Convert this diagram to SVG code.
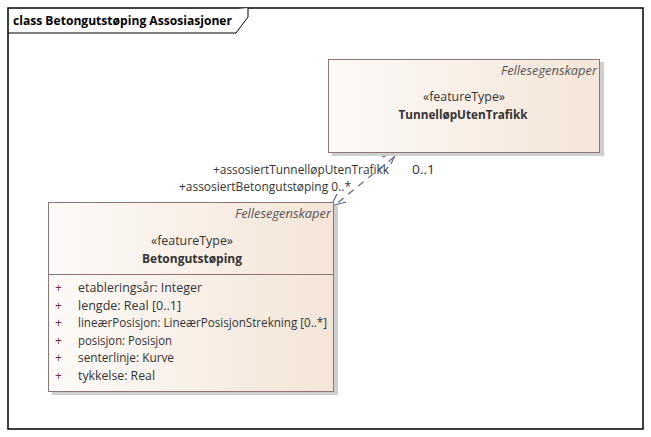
<svg xmlns="http://www.w3.org/2000/svg" width="651" height="437" viewBox="0 0 651 437">
<defs>
<linearGradient id="boxfill" x1="0" y1="0" x2="1" y2="0">
<stop offset="0" stop-color="#fdfaf7"/>
<stop offset="1" stop-color="#f4e5d8"/>
</linearGradient>
</defs>
<style>
text{font-family:"Open Sans","Noto Sans","DejaVu Sans",sans-serif;font-size:12px;fill:#333333}
.title{font-weight:bold;font-size:12px;fill:#000000}
.italic{font-style:italic;fill:#555555}
.bold{font-weight:bold;fill:#333333}
.mid{text-anchor:middle}
.end{text-anchor:end}
.box{fill:url(#boxfill);stroke:#8e7474;stroke-width:1}
.shadow{fill:#cfcfcf}
.vis{fill:#6a2e46}
.conn{fill:none;stroke:#5b6888;stroke-width:1.2}
.dash{stroke-dasharray:7,6}
</style>
<rect x="0" y="0" width="651" height="437" fill="#ffffff"/>
<g id="frame">
<rect x="8" y="8" width="635" height="421" fill="none" stroke="#000000" stroke-width="1.5"/>
<path d="M8,33 L236,33 L248,17 L248,8" fill="#ffffff" stroke="#000000" stroke-width="1"/>
<text class="title" x="13" y="25" textLength="219" lengthAdjust="spacingAndGlyphs">class Betongutstøping Assosiasjoner</text>
</g>
<g id="connectors">
<path class="conn dash" d="M394,157 L335,205"/>
<path class="conn" d="M382,157 L396,153 L391,164"/>
<path class="conn" d="M346,202 L331,206 L337,194"/>
<text class="end" x="389" y="174" textLength="176" lengthAdjust="spacingAndGlyphs">+assosiertTunnelløpUtenTrafikk</text>
<text x="412" y="174" textLength="23" lengthAdjust="spacingAndGlyphs">0..1</text>
<text class="end" x="351" y="191" textLength="172" lengthAdjust="spacingAndGlyphs">+assosiertBetongutstøping 0..*</text>
</g>
<g id="TunnellopUtenTrafikk">
<rect class="shadow" x="332" y="62" width="272" height="94"/>
<rect class="box" x="328.5" y="59.5" width="271" height="93"/>
<text class="italic end" x="597" y="75" textLength="96" lengthAdjust="spacingAndGlyphs">Fellesegenskaper</text>
<text class="mid" x="464" y="101" textLength="82" lengthAdjust="spacingAndGlyphs">«featureType»</text>
<text class="bold mid" x="463" y="119" textLength="129" lengthAdjust="spacingAndGlyphs">TunnelløpUtenTrafikk</text>
</g>
<g id="Betongutstoping">
<rect class="shadow" x="52" y="206" width="286" height="189"/>
<rect class="box" x="48.5" y="202.5" width="285" height="189"/>
<line x1="48.5" y1="274.5" x2="333.5" y2="274.5" stroke="#8e7474" stroke-width="1"/>
<text class="italic end" x="331" y="218" textLength="96" lengthAdjust="spacingAndGlyphs">Fellesegenskaper</text>
<text class="mid" x="192" y="245" textLength="82" lengthAdjust="spacingAndGlyphs">«featureType»</text>
<text class="bold mid" x="192" y="263" textLength="100" lengthAdjust="spacingAndGlyphs">Betongutstøping</text>
<text class="vis" x="55" y="292">+</text>
<text x="78" y="292" textLength="124" lengthAdjust="spacingAndGlyphs">etableringsår: Integer</text>
<text class="vis" x="55" y="310">+</text>
<text x="78" y="310" textLength="103" lengthAdjust="spacingAndGlyphs">lengde: Real [0..1]</text>
<text class="vis" x="55" y="327">+</text>
<text x="78" y="327" textLength="249" lengthAdjust="spacingAndGlyphs">lineærPosisjon: LineærPosisjonStrekning [0..*]</text>
<text class="vis" x="55" y="345">+</text>
<text x="78" y="345" textLength="94" lengthAdjust="spacingAndGlyphs">posisjon: Posisjon</text>
<text class="vis" x="55" y="362">+</text>
<text x="78" y="362" textLength="96" lengthAdjust="spacingAndGlyphs">senterlinje: Kurve</text>
<text class="vis" x="55" y="380">+</text>
<text x="78" y="380" textLength="77" lengthAdjust="spacingAndGlyphs">tykkelse: Real</text>
</g>
</svg>
